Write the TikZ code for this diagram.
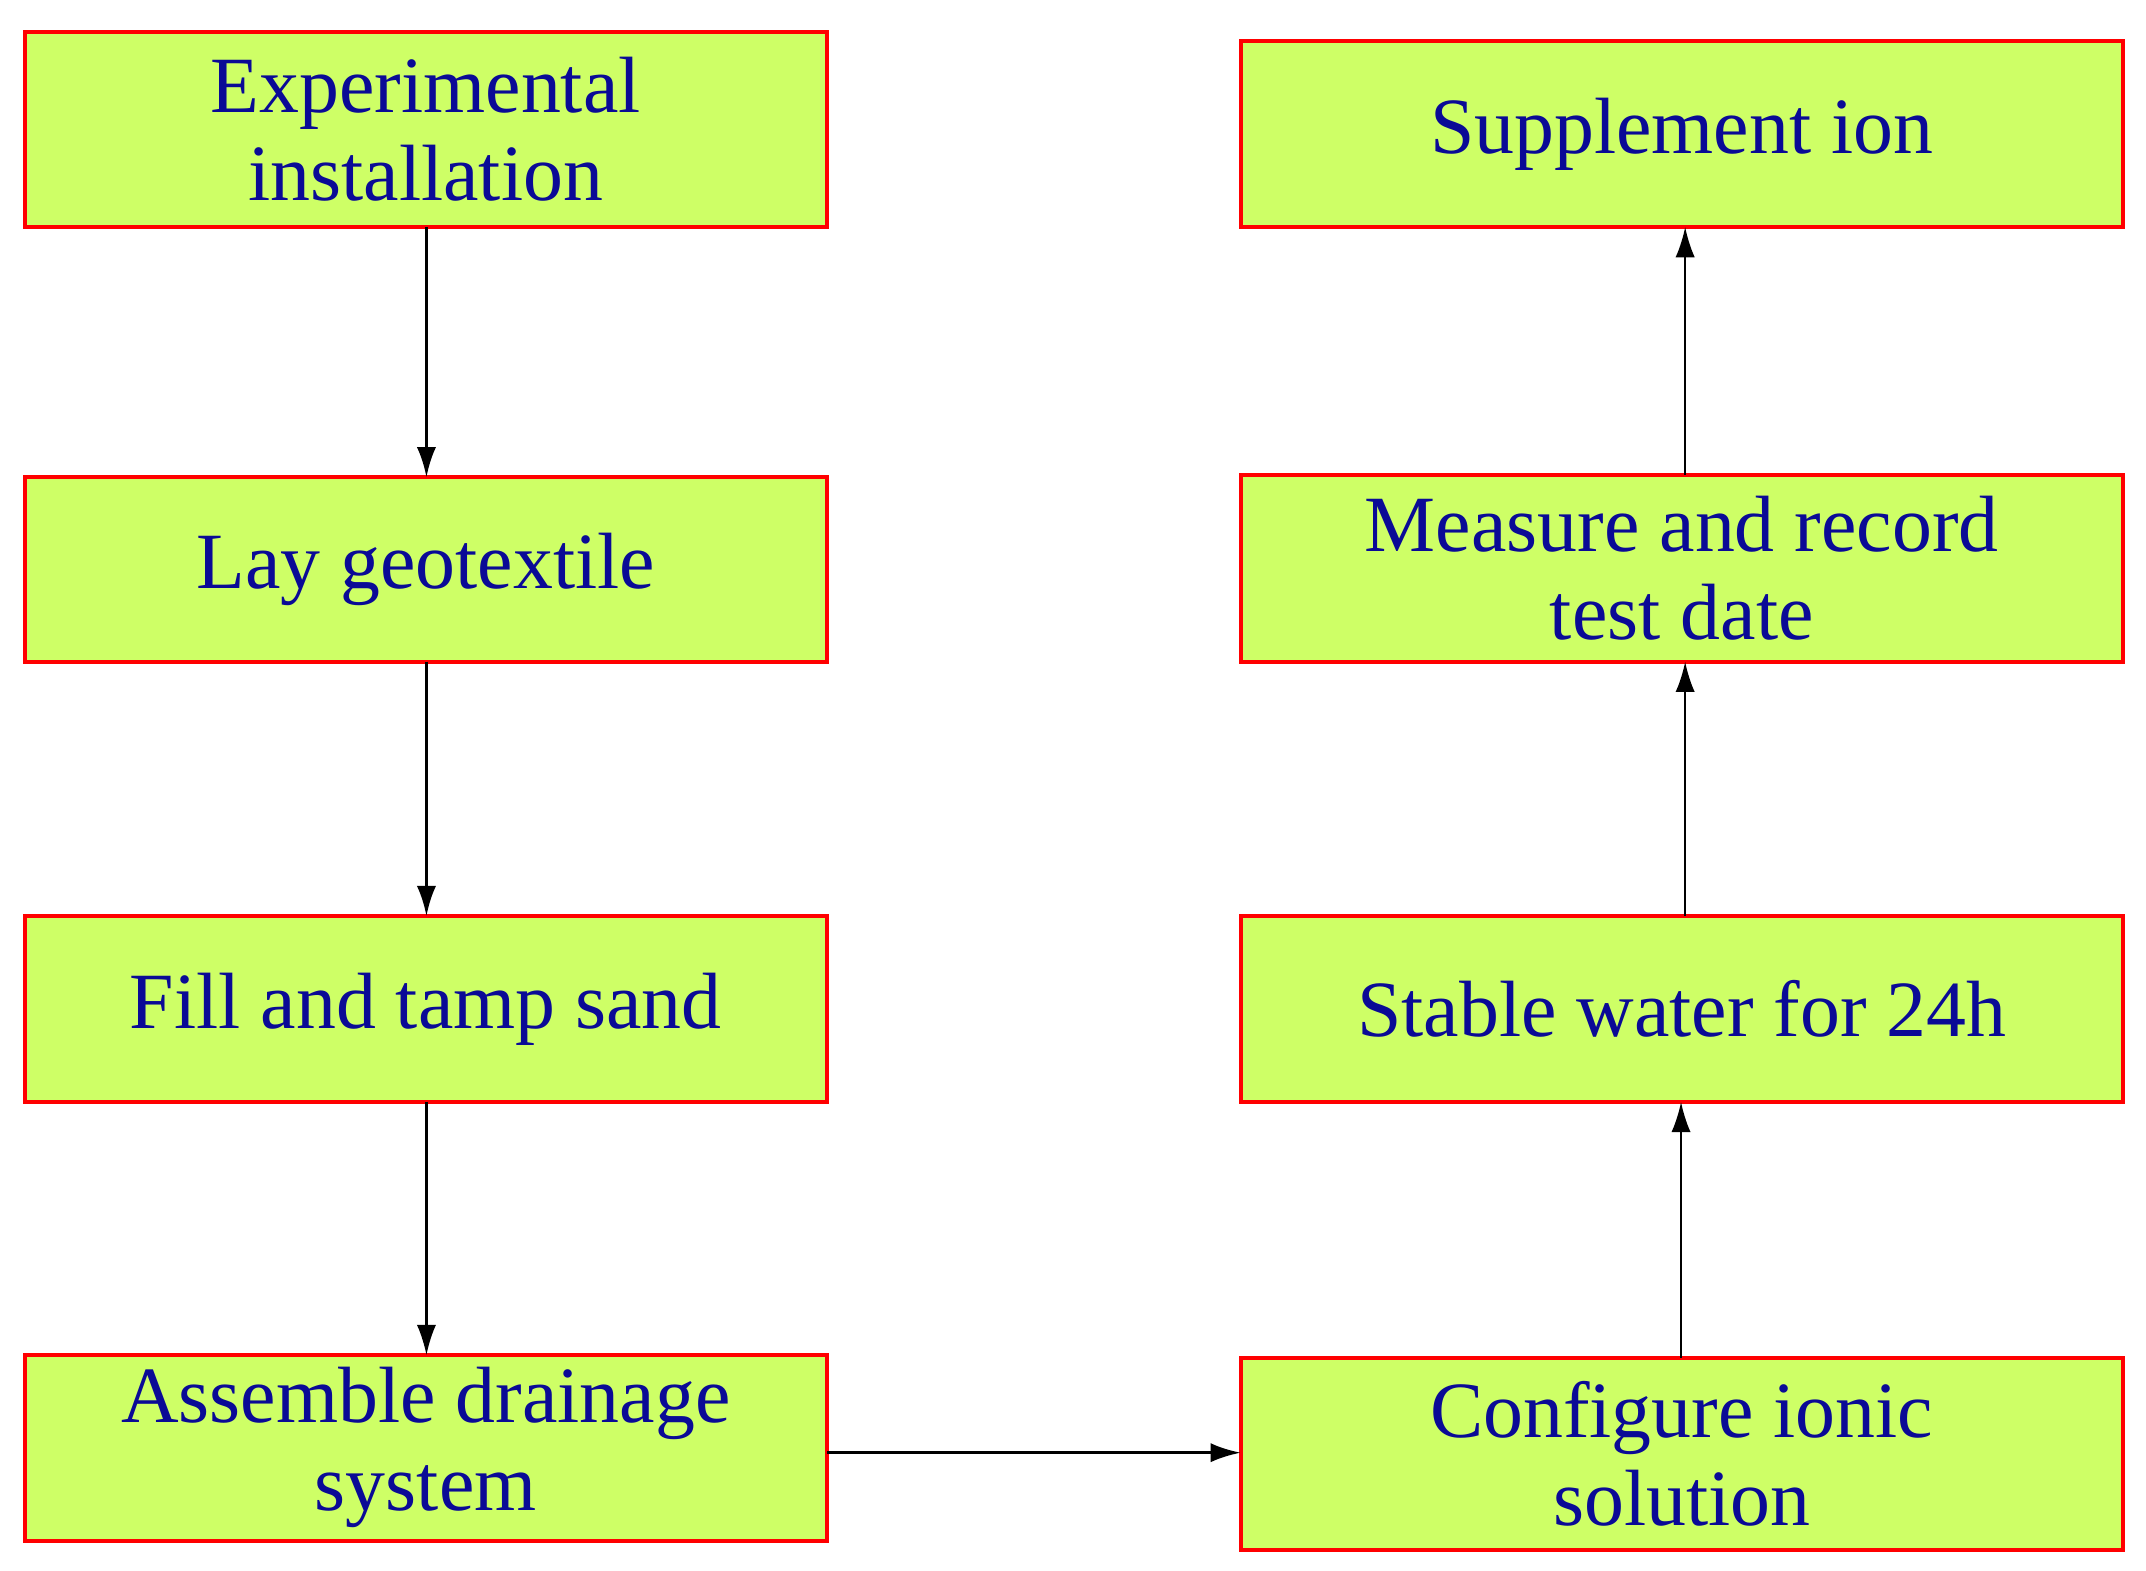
\documentclass[tikz,border=0pt]{standalone}
\usepackage{fontspec}
\setmainfont{Liberation Serif}
\usetikzlibrary{arrows.meta}
\definecolor{boxfill}{RGB}{206,255,102}
\definecolor{txt}{RGB}{10,10,150}
\begin{document}
\begin{tikzpicture}[x=0.5pt,y=-0.5pt,
  box/.style={draw=red,line width=1.5pt,fill=boxfill,inner sep=0pt,text=txt,font=\fontsize{29}{32}\selectfont,align=center},
  arr/.style={-{Latex[length=11pt,width=7pt]},line width=1.2pt},
  arrt/.style={-{Latex[length=11pt,width=7pt]},line width=0.8pt}]
\useasboundingbox (0,0) rectangle (1560,1142);
\fill[white] (0,0) rectangle (1560,1142);
\newcommand{\bx}[6]{\node[box,minimum width=#4*0.5pt-#2*0.5pt,minimum height=#5*0.5pt-#3*0.5pt] (#1) at ({(#2+#4)/2},{(#3+#5)/2}) {#6};}
\bx{l1}{18}{23}{601}{165}{Experimental\\installation}
\bx{l2}{18}{347}{601}{481}{Lay geotextile}
\bx{l3}{18}{666}{601}{801}{Fill and tamp sand}
\bx{l4}{18}{985}{601}{1120}{Assemble drainage\\system}
\bx{r1}{902}{30}{1543}{165}{Supplement ion}
\bx{r2}{902}{345}{1543}{481}{Measure and record\\test date}
\bx{r3}{902}{666}{1543}{801}{Stable water for 24h}
\bx{r4}{902}{987}{1543}{1127}{Configure ionic\\solution}
\draw[arr] (310,165) -- (310,347);
\draw[arr] (310,481) -- (310,666);
\draw[arrt] (310,801) -- (310,985);
\draw[arr] (601,1056) -- (902,1056);
\draw[arrt] (1222,987) -- (1222,801);
\draw[arrt] (1225,666) -- (1225,481);
\draw[arrt] (1225,345) -- (1225,165);
\end{tikzpicture}
\end{document}
